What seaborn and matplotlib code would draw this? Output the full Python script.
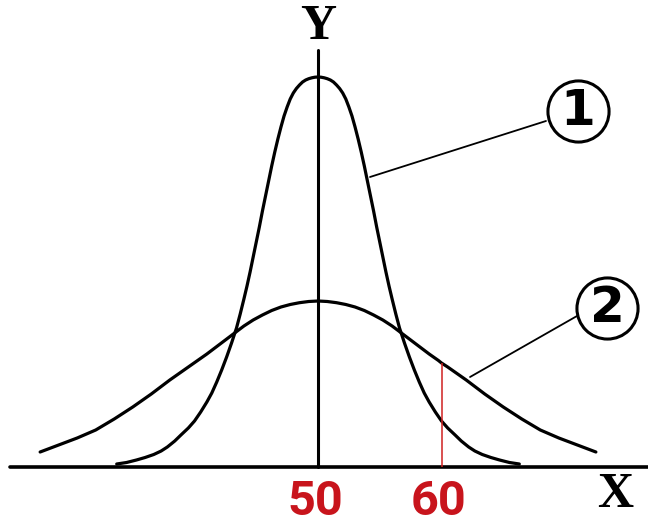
import seaborn as sns
import matplotlib.pyplot as plt
import pandas as pd

sns.set_style('white')

# curve 1 - the narrow one (x, height)
x1 = [33.7, 34.5, 35.3, 36.0, 36.7, 37.3, 37.8, 38.4, 38.9, 39.5, 40.0, 40.5,
      41.0, 41.4, 41.8, 42.2, 42.6, 43.0, 43.4, 43.7, 44.0, 44.25, 44.5, 44.75,
      45.0, 45.25, 45.5, 45.75, 46.0, 46.25, 46.5, 46.75, 47.0, 47.25, 47.5,
      47.75, 48.0, 48.25, 48.5, 48.75, 49.0, 49.25, 49.5, 49.75, 50.0,
      50.25, 50.5, 50.75, 51.0, 51.25, 51.5, 51.75, 52.0, 52.25, 52.5, 52.75,
      53.0, 53.25, 53.5, 53.75, 54.0, 54.25, 54.5, 54.75, 55.0, 55.25, 55.5,
      55.75, 56.0, 56.3, 56.6, 57.0, 57.4, 57.8, 58.2, 58.6, 59.0, 59.5, 60.0,
      60.5, 61.1, 61.6, 62.2, 62.7, 63.3, 64.0, 64.7, 65.5, 66.3]
y1 = [3, 4.5, 7, 9.5, 12.5, 16, 20, 26, 32, 39, 46, 55,
      65, 74, 85, 97, 110, 124, 139, 153, 168, 181, 195, 210,
      225, 240, 256, 271, 286, 301, 315, 328, 340, 351, 360,
      368, 374, 378.5, 382, 385, 387, 388.3, 389.2, 389.8, 390,
      389.8, 389.2, 388.3, 387, 385, 382, 378.5, 374, 368, 360, 351,
      340, 328, 315, 301, 286, 271, 256, 240, 225, 210, 195,
      181, 168, 153, 139, 124, 110, 97, 85, 74, 65, 55, 46,
      39, 32, 26, 20, 16, 12.5, 9.5, 7, 4.5, 3]

# curve 2 - the wide one
x2 = [27.5, 28.25, 29.0, 29.75, 30.5, 31.25, 32.0, 32.75, 33.5, 34.25, 35.0,
      35.75, 36.5, 37.25, 38.0, 38.75, 39.5, 40.25, 41.0, 41.75, 42.5, 43.25,
      44.0, 44.75, 45.5, 46.25, 47.0, 47.75, 48.5, 49.25, 50.0,
      50.75, 51.5, 52.25, 53.0, 53.75, 54.5, 55.25, 56.0, 56.75, 57.5, 58.25,
      59.0, 59.75, 60.0, 60.5, 61.25, 62.0, 62.75, 63.5, 64.25, 65.0, 65.75,
      66.5, 67.25, 68.0, 68.75, 69.5, 70.25, 71.0, 71.75, 72.5]
y2 = [15, 18.5, 22, 25.5, 29, 33, 37, 42.5, 48, 54, 60,
      66.5, 73, 80, 87, 93.5, 100, 106.5, 113, 120, 127, 134,
      141, 147, 152, 156.5, 160, 162.5, 164.3, 165.5, 166,
      165.5, 164.3, 162.5, 160, 156.5, 152, 147, 141, 134, 127, 120,
      113, 106.5, 104, 100, 93.5, 87, 80, 73, 66.5, 60, 54,
      48, 42.5, 37, 33, 29, 25.5, 22, 18.5, 15]

mean = 50
mark = 60
tick_labels = ['50', '60']

df1 = pd.DataFrame({'x': x1, 'y': y1})
df2 = pd.DataFrame({'x': x2, 'y': y2})

fig = plt.figure(figsize=(6.48, 5.25), dpi=100)
ax = fig.add_axes([0, 0, 1, 1])

sns.lineplot(data=df1, x='x', y='y', color='black', lw=2.3, ax=ax)
sns.lineplot(data=df2, x='x', y='y', color='black', lw=2.3, ax=ax)

ax.set_xlim(24.25, 76.72)
ax.set_ylim(-58, 467)
ax.set_axis_off()

# axes drawn by hand
ax.axhline(0, xmin=10 / 648, xmax=1, color='black', lw=2.6)
ax.axvline(mean, ymin=58 / 525, ymax=475 / 525, color='black', lw=2.2)

# red marker at x = 60 up to curve 2
h60 = df2.loc[df2['x'] == mark, 'y'].iloc[0]
ax.vlines(mark, 0, h60, color='#d02020', lw=1.1)

ax.text(mean, 440, 'Y', ha='center', va='center', fontsize=36, color='black',
        fontweight='bold', family=['Liberation Serif', 'DejaVu Serif'])
ax.text(74.05, -28, 'X', ha='center', va='center', fontsize=36, color='black',
        fontweight='bold', family=['Liberation Serif', 'DejaVu Serif'])
for xv, lab in zip([mean, mark], tick_labels):
    ax.text(xv - 0.25, -35, lab, ha='center', va='center', fontsize=35,
            fontweight='bold', color='#c8141c',
            family=['Roboto', 'DejaVu Sans'])

# numbered leaders
ax.plot([54.21, 68.46], [290, 346], color='black', lw=1.3)
ax.plot([62.31, 70.97], [90, 151], color='black', lw=1.3)
ax.scatter([71.05, 73.40], [356, 159], s=44 ** 2, facecolors='white',
           edgecolors='black', linewidths=2.2, zorder=5)
ax.text(71.05, 356, '1', ha='center', va='center', fontsize=36, color='black',
        fontweight='bold', family=['DejaVu Sans'], zorder=6)
ax.text(73.40, 159, '2', ha='center', va='center', fontsize=36, color='black',
        fontweight='bold', family=['DejaVu Sans'], zorder=6)

fig.savefig('out.png', dpi=100)
